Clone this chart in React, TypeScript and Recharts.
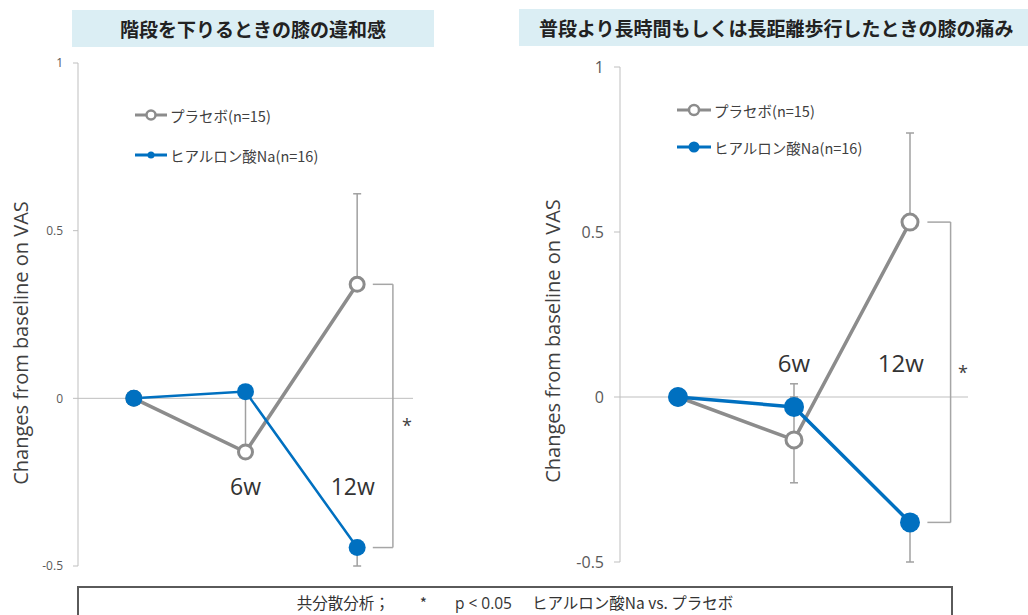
import React from 'react'
import {
  ComposedChart,
  Line,
  XAxis,
  YAxis,
  ReferenceLine,
  ReferenceDot,
  ErrorBar,
  Legend,
} from 'recharts'

const categories = ['0w', '6w', '12w']
const yTicks = [-0.5, 0, 0.5, 1]
const seriesNames = ['プラセボ(n=15)', 'ヒアルロン酸Na(n=16)']

// 階段を下りるときの膝の違和感
const stairsPlacebo = [0, -0.16, 0.34]
const stairsPlaceboErr = [[0, 0], [0, 0.16], [0, 0.27]]
const stairsHyaluronic = [0, 0.02, -0.445]
const stairsHyaluronicErr = [[0, 0], [0, 0], [0.055, 0]]

// 普段より長時間もしくは長距離歩行したときの膝の痛み
const walkPlacebo = [0, -0.13, 0.53]
const walkPlaceboErr = [[0, 0], [0.13, 0.13], [0, 0.27]]
const walkHyaluronic = [0, -0.03, -0.38]
const walkHyaluronicErr = [[0, 0], [0, 0.07], [0.12, 0]]

const GRAY = '#8c8c8c'
const BLUE = '#0070c0'
const AXIS = '#bfbfbf'
const JP = "'Noto Sans CJK JP', sans-serif"
const LATIN = "'Open Sans', 'Noto Sans CJK JP', sans-serif"

type PanelProps = {
  left: number
  width: number
  plot: { left: number; right: number; top: number; bottom: number }
  yAxisWidth: number
  tickFont: number
  tickSize: number
  placebo: number[]
  placeboErr: number[][]
  hyal: number[]
  hyalErr: number[][]
  placeboDot: number
  hyalDot: number
  hyalWidth: number
  weekY: number
  week12Shift: number
  weekFont: number
  bracket: [number, number]
  starX: number
  starY: number
  legend: { left: number; top: number; gap: number; line: number; pr: number; br: number }
}

function Panel(p: PanelProps) {
  const data = categories.map((c, i) => ({
    x: i + 0.5,
    name: c,
    placebo: p.placebo[i],
    placeboErr: p.placeboErr[i],
    hyal: p.hyal[i],
    hyalErr: p.hyalErr[i],
  }))
  const top12 = p.placebo[2]
  const bottom12 = p.hyal[2]
  const H = 615

  const renderLegend = () => (
    <div style={{ display: 'flex', flexDirection: 'column', gap: p.legend.gap, fontFamily: JP, fontSize: 14.5, color: '#404040' }}>
      {seriesNames.map((n, i) => (
        <div key={n} style={{ display: 'flex', alignItems: 'center', height: 20 }}>
          <svg width={p.legend.line} height={16} style={{ marginRight: 3 }}>
            <line x1={0} y1={8} x2={p.legend.line} y2={8} stroke={i === 0 ? GRAY : BLUE} strokeWidth={3} />
            {i === 0 ? (
              <circle cx={p.legend.line / 2} cy={8} r={p.legend.pr} fill="#fff" stroke={GRAY} strokeWidth={2.5} />
            ) : (
              <circle cx={p.legend.line / 2} cy={8} r={p.legend.br} fill={BLUE} />
            )}
          </svg>
          <span>{n}</span>
        </div>
      ))}
    </div>
  )

  return (
    <div style={{ position: 'absolute', left: p.left, top: 0 }}>
      <ComposedChart
        width={p.width}
        height={H}
        data={data}
        margin={{
          top: p.plot.top,
          bottom: H - p.plot.bottom,
          left: p.plot.left - p.yAxisWidth,
          right: p.width - p.plot.right,
        }}
      >
        <XAxis type="number" dataKey="x" domain={[0, categories.length]} hide />
        <YAxis
          type="number"
          domain={[-0.5, 1]}
          ticks={yTicks}
          allowDataOverflow
          width={p.yAxisWidth}
          tickSize={p.tickSize}
          tickMargin={10}
          axisLine={{ stroke: AXIS }}
          tickLine={{ stroke: AXIS }}
          tick={{ fontSize: p.tickFont, fill: '#595959', fontFamily: LATIN }}
        />
        <ReferenceLine y={0} stroke={AXIS} strokeWidth={1} />
        <Legend
          layout="horizontal"
          align="center"
          verticalAlign="middle"
          wrapperStyle={{ left: p.legend.left, top: p.legend.top, width: 'auto' }}
          content={renderLegend}
        />
        <Line
          type="linear"
          dataKey="placebo"
          name={seriesNames[0]}
          stroke={GRAY}
          strokeWidth={3.5}
          dot={{ r: p.placeboDot, fill: '#fff', stroke: GRAY, strokeWidth: 3 }}
          activeDot={false}
          isAnimationActive={false}
        >
          <ErrorBar dataKey="placeboErr" direction="y" width={4} stroke="#a0a0a0" strokeWidth={1.5} isAnimationActive={false} />
        </Line>
        <Line
          type="linear"
          dataKey="hyal"
          name={seriesNames[1]}
          stroke={BLUE}
          strokeWidth={p.hyalWidth}
          dot={{ r: p.hyalDot, fill: BLUE, stroke: BLUE, strokeWidth: 0 }}
          activeDot={false}
          isAnimationActive={false}
        >
          <ErrorBar dataKey="hyalErr" direction="y" width={4} stroke="#a0a0a0" strokeWidth={1.5} isAnimationActive={false} />
        </Line>
        {/* 有意差ブラケット */}
        <ReferenceLine segment={[{ x: p.bracket[0], y: top12 }, { x: p.bracket[1], y: top12 }]} stroke="#a6a6a6" strokeWidth={1.5} />
        <ReferenceLine segment={[{ x: p.bracket[1], y: top12 }, { x: p.bracket[1], y: bottom12 }]} stroke="#a6a6a6" strokeWidth={1.5} />
        <ReferenceLine segment={[{ x: p.bracket[0], y: bottom12 }, { x: p.bracket[1], y: bottom12 }]} stroke="#a6a6a6" strokeWidth={1.5} />
        <ReferenceDot
          x={p.starX}
          y={p.starY}
          r={0}
          fill="none"
          stroke="none"
          label={{ value: '*', position: 'center', fontSize: 18, fill: '#404040', fontFamily: LATIN }}
        />
        <ReferenceDot
          x={1.5}
          y={p.weekY}
          r={0}
          fill="none"
          stroke="none"
          label={{ value: categories[1], position: 'center', fontSize: p.weekFont, fill: '#333', fontFamily: LATIN }}
        />
        <ReferenceDot
          x={2.5 + p.week12Shift}
          y={p.weekY}
          r={0}
          fill="none"
          stroke="none"
          label={{ value: categories[2], position: 'center', fontSize: p.weekFont, fill: '#333', fontFamily: LATIN }}
        />
      </ComposedChart>
    </div>
  )
}

const titleStyle: React.CSSProperties = {
  position: 'absolute',
  background: '#dbeef4',
  fontFamily: JP,
  fontWeight: 700,
  fontSize: 19,
  color: '#222',
  display: 'flex',
  alignItems: 'center',
  justifyContent: 'center',
  whiteSpace: 'nowrap',
}

const yLabelStyle: React.CSSProperties = {
  position: 'absolute',
  transform: 'translate(-50%, -50%) rotate(-90deg)',
  whiteSpace: 'nowrap',
  fontFamily: LATIN,
  fontSize: 20,
  color: '#404040',
}

export default function App() {
  return (
    <div style={{ position: 'absolute', left: 0, top: 0, width: 1028, height: 615, overflow: 'hidden', background: '#fff' }}>
      <div style={{ ...titleStyle, left: 72, top: 10, width: 362, height: 37 }}>階段を下りるときの膝の違和感</div>
      <div style={{ ...titleStyle, left: 519, top: 9, width: 520, height: 37, justifyContent: 'flex-start', paddingLeft: 20 }}>
        普段より長時間もしくは長距離歩行したときの膝の痛み
      </div>

      <Panel
        left={0}
        width={514}
        plot={{ left: 78, right: 413, top: 63, bottom: 566 }}
        yAxisWidth={50}
        tickFont={12}
        tickSize={5}
        placebo={stairsPlacebo}
        placeboErr={stairsPlaceboErr}
        hyal={stairsHyaluronic}
        hyalErr={stairsHyaluronicErr}
        placeboDot={7}
        hyalDot={8.5}
        hyalWidth={2.5}
        weekY={-0.265}
        week12Shift={-0.04}
        weekFont={23}
        bracket={[2.64, 2.82]}
        starX={2.946}
        starY={-0.08}
        legend={{ left: 135, top: 105, gap: 20, line: 32, pr: 4.5, br: 3.5 }}
      />
      <Panel
        left={514}
        width={514}
        plot={{ left: 106, right: 454, top: 67, bottom: 562 }}
        yAxisWidth={60}
        tickFont={16}
        tickSize={6}
        placebo={walkPlacebo}
        placeboErr={walkPlaceboErr}
        hyal={walkHyaluronic}
        hyalErr={walkHyaluronicErr}
        placeboDot={8}
        hyalDot={10}
        hyalWidth={3.5}
        weekY={0.103}
        week12Shift={-0.08}
        weekFont={24}
        bracket={[2.65, 2.85]}
        starX={2.957}
        starY={0.075}
        legend={{ left: 163, top: 100, gap: 17, line: 34, pr: 5, br: 5.5 }}
      />

      <div style={{ ...yLabelStyle, left: 20, top: 343 }}>Changes from baseline on VAS</div>
      <div style={{ ...yLabelStyle, left: 552, top: 341 }}>Changes from baseline on VAS</div>

      <div
        style={{
          position: 'absolute',
          left: 77,
          top: 586,
          width: 872,
          height: 60,
          border: '2px solid #5a5a5a',
          boxSizing: 'content-box',
        }}
      />
      <div
        style={{
          position: 'absolute',
          left: 79,
          top: 594,
          width: 872,
          height: 16,
          textAlign: 'center',
          lineHeight: '16px',
          fontFamily: JP,
          fontSize: 15.5,
          color: '#333',
          whiteSpace: 'nowrap',
        }}
      >
        <span>共分散分析；</span>
        <span style={{ marginLeft: 30 }}>*</span>
        <span style={{ marginLeft: 28, fontFamily: LATIN }}>p &lt; 0.05</span>
        <span style={{ marginLeft: 20 }}>ヒアルロン酸Na vs. プラセボ</span>
      </div>
    </div>
  )
}
